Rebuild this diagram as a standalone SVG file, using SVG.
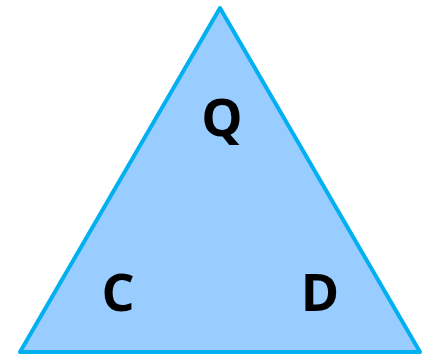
<svg xmlns="http://www.w3.org/2000/svg" width="431" height="357" viewBox="0 0 431 357">
<style>
.lbl{font-family:"Open Sans","Liberation Sans",sans-serif;font-weight:bold;font-size:52px;fill:#000;text-anchor:middle}
</style>
<g id="triangle">
<polygon points="220,8 20,352 420,352" fill="#99CCFF" stroke="#00B0F0" stroke-width="4" stroke-linejoin="round"/>
</g>
<g id="Q"><text class="lbl" x="222" y="136">Q</text></g>
<g id="C"><text class="lbl" x="118" y="311">C</text></g>
<g id="D"><text class="lbl" x="320" y="311">D</text></g>
</svg>
